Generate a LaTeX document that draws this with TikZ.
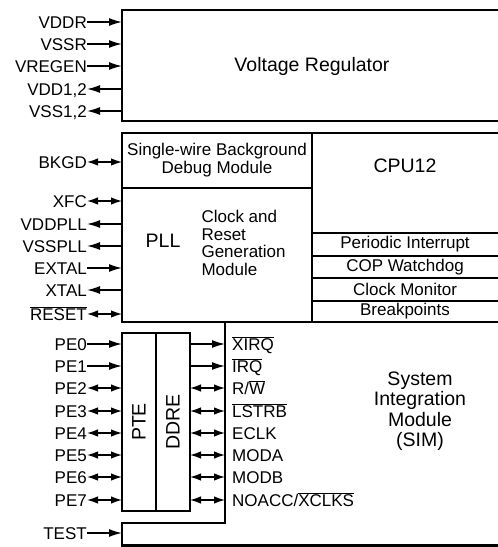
\documentclass[tikz,border=0pt]{standalone}
\usepackage{fontspec}
\setmainfont{Liberation Sans}
\usetikzlibrary{arrows.meta}

\newcommand{\ovl}[1]{$\overline{\mbox{#1}}$}

\begin{document}
\begin{tikzpicture}[x=1pt,y=-1pt,
  small/.style={font=\fontsize{17}{17.5}\selectfont},
  big/.style={font=\fontsize{19.5}{20.5}\selectfont, align=center},
  pinlbl/.style={small, inner sep=0pt, text height=12pt, text depth=0pt},
  heavy/.style={line width=2.4pt},
  light/.style={line width=1.4pt},
  into/.style={line width=1.4pt, -{Latex[length=13pt,width=8pt]}},
  outof/.style={line width=1.4pt, {Latex[length=13pt,width=8pt]}-},
  both/.style={line width=1.4pt, {Latex[length=11pt,width=7.5pt]}-{Latex[length=11pt,width=7.5pt]}}]
  \clip (0,0) rectangle (498,547);

  % voltage regulator
  \draw[heavy] (510,10) -- (122,10) -- (122,121) -- (510,121);
  \node[big] (vreg) at (312,66) {Voltage Regulator};
  \foreach \n/\lbl/\y/\tip in {vddr/VDDR/22/into, vssr/VSSR/44/into,
      vregen/VREGEN/66/into, vdd/{VDD1,2}/89/outof, vss/{VSS1,2}/111/outof}{
    \node[pinlbl, anchor=east] (\n) at (87,\y) {\lbl};
    \coordinate (\n-in) at (122,\y);
    \draw[\tip] (\n) -- (\n-in);
  }

  % core block
  \draw[heavy] (510,133) -- (122,133) -- (122,322) -- (225,322) -- (225,523)
    -- (122,523) -- (122,545.5) -- (510,545.5);
  \draw[heavy] (225,322) -- (510,322);
  \draw[light] (122,188) -- (312,188);
  \draw[light] (312,133) -- (312,322);
  \foreach \y in {233,256,278,301}
    \draw[light] (312,\y) -- (510,\y);

  \node[small, align=center] (bdm) at (217,160) {Single-wire Background\\Debug Module};
  \node[big] (cpu) at (405,166) {CPU12};
  \node[big] (pll) at (163,241) {PLL};
  \node[small, align=left, anchor=west] (crg) at (198,243)
    {Clock and\\Reset\\Generation\\Module};
  \node[small] (pit) at (405,244.5) {Periodic Interrupt};
  \node[small] (cop) at (405,267) {COP Watchdog};
  \node[small] (cm) at (405,289.5) {Clock Monitor};
  \node[small] (bkp) at (405,311.5) {Breakpoints};
  \node[big] (sim) at (420,411) {System\\Integration\\Module\\(SIM)};

  \foreach \n/\lbl/\y/\tip in {bkgd/BKGD/162/both, xfc/XFC/201/both,
      vddpll/VDDPLL/224/outof, vsspll/VSSPLL/246/outof, extal/EXTAL/268/into,
      xtal/XTAL/290/outof, reset/{\ovl{RESET}}/314/both}{
    \node[pinlbl, anchor=east] (\n) at (87,\y) {\lbl};
    \coordinate (\n-in) at (122,\y);
    \draw[\tip] (\n) -- (\n-in);
  }

  % port E
  \draw[heavy] (122,333) rectangle (190,511);
  \draw[heavy] (156,333) -- (156,511);
  \node[big, rotate=90] (pte) at (139,422) {PTE};
  \node[big, rotate=90] (ddre) at (173,422) {DDRE};
  \foreach \i/\y/\tip in {0/344/into, 1/366/into, 2/388/both, 3/411/both,
      4/433/both, 5/455/both, 6/477/both, 7/500/both}{
    \node[pinlbl, anchor=east] (pe\i) at (87,\y) {PE\i};
    \coordinate (pe\i-in) at (122,\y);
    \draw[\tip] (pe\i) -- (pe\i-in);
  }
  \foreach \n/\lbl/\y/\tip in {xirq/{\ovl{XIRQ}}/344/into, irq/{\ovl{IRQ}}/366/into,
      rw/{R/\ovl{W}}/388/both, lstrb/{\ovl{LSTRB}}/411/both, eclk/ECLK/433/both,
      moda/MODA/455/both, modb/MODB/477/both,
      noacc/{NOACC/\ovl{XCLKS}}/500/both}{
    \coordinate (\n-out) at (190,\y);
    \coordinate (\n-in) at (225,\y);
    \draw[\tip] (\n-out) -- (\n-in);
    \node[pinlbl, anchor=west] (\n) at (232,\y) {\lbl};
  }

  % test pin
  \node[pinlbl, anchor=east] (test) at (87,533) {TEST};
  \coordinate (test-in) at (122,533);
  \draw[into] (test) -- (test-in);
\end{tikzpicture}
\end{document}
